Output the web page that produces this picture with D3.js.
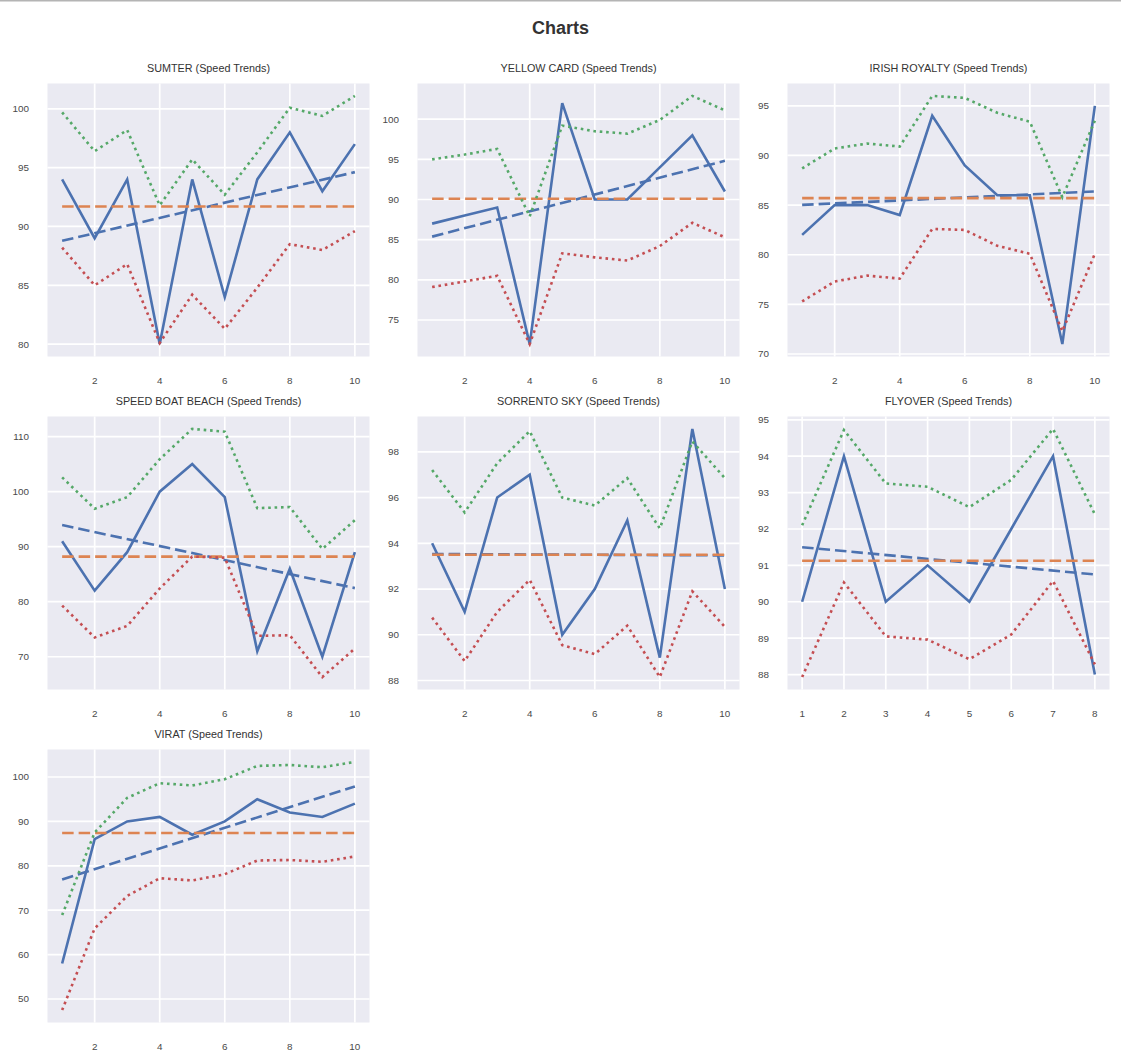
<!DOCTYPE html>
<html>
<head>
    <title>Charts</title>
    <script src="https://cdn.jsdelivr.net/npm/d3@7"></script>
    <style>
        body { margin: 0; background: #fff; }
        svg { display: block; font-family: "Liberation Sans", Arial, Helvetica, sans-serif; }
        .panel-title { font-size: 10.8px; fill: #333; text-anchor: middle; }
        .tick-label { font-size: 9.9px; fill: #4a4a4a; }
    </style>
</head>
<body>
    <svg id="chart" width="1121" height="1061"></svg>

    <script>
        // horses, one panel each (read row by row)
        const horses = ["SUMTER", "YELLOW CARD", "IRISH ROYALTY", "SPEED BOAT BEACH",
                        "SORRENTO SKY", "FLYOVER", "VIRAT"];

        // race speeds per horse
        const speeds = [
            [94, 89, 94, 80, 94, 84, 94, 98, 93, 97],
            [87, 88, 89, 72, 102, 90, 90, 94, 98, 91],
            [82, 85, 85, 84, 94, 89, 86, 86, 71, 95],
            [91, 82, 89, 100, 105, 99, 71, 86, 70, 89],
            [94, 91, 96, 97, 90, 92, 95, 89, 99, 92],
            [90, 94, 90, 91, 90, 92, 94, 88],
            [58, 86, 90, 91, 87, 90, 95, 92, 91, 94]
        ];

        // green dotted (upper band)
        const upperBand = [
            [99.7, 96.4, 98.2, 91.8, 95.7, 92.7, 96.3, 100.1, 99.4, 101.1],
            [95.0, 95.6, 96.3, 87.9, 99.2, 98.5, 98.2, 99.9, 102.9, 101.1],
            [88.7, 90.7, 91.2, 90.9, 96.0, 95.8, 94.3, 93.4, 85.8, 93.5],
            [102.6, 96.9, 99.0, 105.9, 111.4, 110.9, 97.0, 97.2, 89.6, 94.8],
            [97.2, 95.35, 97.5, 98.9, 96.0, 95.65, 96.85, 94.65, 98.45, 96.85],
            [92.1, 94.72, 93.25, 93.16, 92.6, 93.35, 94.75, 92.4],
            [68.9, 87.5, 95.3, 98.6, 98.1, 99.5, 102.5, 102.7, 102.2, 103.4]
        ];

        // red dotted (lower band)
        const lowerBand = [
            [88.2, 85.0, 86.8, 80.1, 84.2, 81.3, 84.8, 88.5, 88.0, 89.6],
            [79.1, 79.8, 80.5, 72.0, 83.3, 82.8, 82.4, 84.2, 87.1, 85.3],
            [75.3, 77.3, 77.9, 77.6, 82.6, 82.5, 80.9, 80.1, 72.3, 80.1],
            [79.3, 73.5, 75.6, 82.4, 88.2, 88.0, 73.8, 73.9, 66.3, 71.5],
            [90.75, 88.85, 91.0, 92.4, 89.55, 89.15, 90.4, 88.15, 91.9, 90.35],
            [87.93, 90.53, 89.05, 88.96, 88.42, 89.1, 90.57, 88.28],
            [47.5, 65.9, 73.2, 77.2, 76.7, 78.1, 81.2, 81.3, 80.9, 82.1]
        ];

        // orange dashed mean, blue dashed trend (start / end value)
        const meanSpeed = [91.7, 90.1, 85.7, 88.2, 93.5, 91.125, 87.4];
        const trendStart = [88.78, 85.38, 85.02, 93.93, 93.53, 91.5, 76.93];
        const trendEnd = [94.62, 94.82, 86.38, 82.47, 93.47, 90.75, 97.87];

        // axis ticks
        const yTicks = [
            [80, 85, 90, 95, 100],
            [75, 80, 85, 90, 95, 100],
            [70, 75, 80, 85, 90, 95],
            [70, 80, 90, 100, 110],
            [88, 90, 92, 94, 96, 98],
            [88, 89, 90, 91, 92, 93, 94, 95],
            [50, 60, 70, 80, 90, 100]
        ];
        const xTicks = [
            [2, 4, 6, 8, 10], [2, 4, 6, 8, 10], [2, 4, 6, 8, 10],
            [2, 4, 6, 8, 10], [2, 4, 6, 8, 10], [1, 2, 3, 4, 5, 6, 7, 8],
            [2, 4, 6, 8, 10]
        ];

        const svg = d3.select("#chart");

        // page top rule + heading
        svg.append("line")
            .attr("x1", 0).attr("x2", 1121).attr("y1", 0.75).attr("y2", 0.75)
            .attr("stroke", "#b4b4b4").attr("stroke-width", 1.5);
        svg.append("text")
            .attr("x", 560.5).attr("y", 33.5)
            .attr("text-anchor", "middle")
            .style("font-size", "18px").style("font-weight", "bold").style("fill", "#333")
            .text("Charts");

        const colLeft = [47.5, 417.5, 787.5];
        const rowTop = [83.5, 416.5, 749.5];
        const pw = 322, ph = 273;
        const lw = 2.6;

        horses.forEach((name, i) => {
            const g = svg.append("g")
                .attr("transform", `translate(${colLeft[i % 3]},${rowTop[Math.floor(i / 3)]})`);

            const sp = speeds[i], hi = upperBand[i], lo = lowerBand[i];
            const n = sp.length;
            const pad = 0.05 * (n - 1);
            const x = d3.scaleLinear().domain([1 - pad, n + pad]).range([0, pw]);

            const all = sp.concat(hi, lo, [meanSpeed[i], trendStart[i], trendEnd[i]]);
            const [mn, mx] = d3.extent(all);
            const yp = 0.05 * (mx - mn);
            const y = d3.scaleLinear().domain([mn - yp, mx + yp]).range([ph, 0]);

            // background + grid
            g.append("rect").attr("width", pw).attr("height", ph).attr("fill", "#eaeaf2");
            g.selectAll(".gx").data(xTicks[i]).enter().append("line")
                .attr("x1", d => x(d)).attr("x2", d => x(d))
                .attr("y1", 0).attr("y2", ph)
                .attr("stroke", "#fff").attr("stroke-width", 1.7);
            g.selectAll(".gy").data(yTicks[i]).enter().append("line")
                .attr("x1", 0).attr("x2", pw)
                .attr("y1", d => y(d)).attr("y2", d => y(d))
                .attr("stroke", "#fff").attr("stroke-width", 1.7);

            // tick labels
            g.selectAll(".xl").data(xTicks[i]).enter().append("text")
                .attr("class", "tick-label")
                .attr("x", d => x(d)).attr("y", ph + 27)
                .attr("text-anchor", "middle")
                .text(d => d);
            g.selectAll(".yl").data(yTicks[i]).enter().append("text")
                .attr("class", "tick-label")
                .attr("x", -18.5).attr("y", d => y(d)).attr("dy", "0.35em")
                .attr("text-anchor", "end")
                .text(d => d);

            g.append("text").attr("class", "panel-title")
                .attr("x", pw / 2).attr("y", -11.5)
                .text(`${name} (Speed Trends)`);

            const line = d3.line().x((d, j) => x(j + 1)).y(d => y(d));
            const idx = d3.range(1, n + 1);

            g.append("path").datum(sp).attr("d", line)
                .attr("fill", "none").attr("stroke", "#4c72b0").attr("stroke-width", lw)
                .attr("stroke-linejoin", "miter");

            // trend line
            g.append("path")
                .datum([[1, trendStart[i]], [n, trendEnd[i]]])
                .attr("d", d3.line().x(d => x(d[0])).y(d => y(d[1])))
                .attr("fill", "none").attr("stroke", "#4c72b0").attr("stroke-width", lw)
                .attr("stroke-dasharray", "11.5,5");

            // mean line
            g.append("path")
                .datum(idx.map(() => meanSpeed[i]))
                .attr("d", line)
                .attr("fill", "none").attr("stroke", "#dd8452").attr("stroke-width", lw)
                .attr("stroke-dasharray", "11.5,5");

            g.append("path").datum(hi).attr("d", line)
                .attr("fill", "none").attr("stroke", "#55a868").attr("stroke-width", lw)
                .attr("stroke-dasharray", "2.6,3.8");
            g.append("path").datum(lo).attr("d", line)
                .attr("fill", "none").attr("stroke", "#c44e52").attr("stroke-width", lw)
                .attr("stroke-dasharray", "2.6,3.8");
        });
    </script>
</body>
</html>
